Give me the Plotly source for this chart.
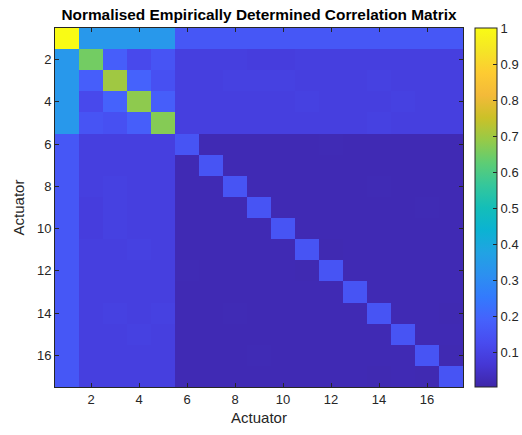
import plotly.graph_objects as go

actuators = list(range(1, 18))

# Normalised correlation matrix (rows = actuator i, cols = actuator j)
row01 = [1.00, 0.34, 0.34, 0.34, 0.34, 0.16, 0.16, 0.16, 0.16, 0.16, 0.16, 0.16, 0.16, 0.16, 0.16, 0.16, 0.16]
row02 = [0.34, 0.65, 0.18, 0.12, 0.15, 0.09, 0.09, 0.09, 0.085, 0.085, 0.09, 0.09, 0.09, 0.09, 0.09, 0.09, 0.09]
row03 = [0.34, 0.18, 0.70, 0.19, 0.14, 0.09, 0.09, 0.095, 0.095, 0.095, 0.09, 0.09, 0.09, 0.095, 0.09, 0.09, 0.09]
row04 = [0.34, 0.12, 0.19, 0.68, 0.18, 0.09, 0.09, 0.09, 0.09, 0.09, 0.095, 0.09, 0.09, 0.09, 0.095, 0.09, 0.09]
row05 = [0.34, 0.15, 0.14, 0.18, 0.67, 0.09, 0.09, 0.09, 0.09, 0.09, 0.09, 0.09, 0.09, 0.095, 0.09, 0.09, 0.09]
row06 = [0.16, 0.09, 0.09, 0.09, 0.09, 0.15, 0.02, 0.02, 0.02, 0.02, 0.02, 0.022, 0.02, 0.02, 0.02, 0.02, 0.02]
row07 = [0.16, 0.09, 0.09, 0.09, 0.09, 0.02, 0.15, 0.02, 0.02, 0.02, 0.02, 0.02, 0.02, 0.02, 0.02, 0.02, 0.02]
row08 = [0.16, 0.09, 0.095, 0.09, 0.09, 0.02, 0.02, 0.15, 0.02, 0.02, 0.02, 0.02, 0.02, 0.022, 0.02, 0.02, 0.02]
row09 = [0.16, 0.085, 0.095, 0.09, 0.09, 0.02, 0.02, 0.02, 0.15, 0.02, 0.02, 0.02, 0.02, 0.02, 0.02, 0.022, 0.02]
row10 = [0.16, 0.085, 0.095, 0.09, 0.09, 0.02, 0.02, 0.02, 0.02, 0.15, 0.02, 0.02, 0.02, 0.02, 0.02, 0.02, 0.02]
row11 = [0.16, 0.09, 0.09, 0.095, 0.09, 0.02, 0.02, 0.02, 0.02, 0.02, 0.15, 0.018, 0.02, 0.02, 0.02, 0.02, 0.02]
row12 = [0.16, 0.09, 0.09, 0.09, 0.09, 0.022, 0.02, 0.02, 0.02, 0.02, 0.018, 0.15, 0.02, 0.02, 0.02, 0.02, 0.02]
row13 = [0.16, 0.09, 0.09, 0.09, 0.09, 0.02, 0.02, 0.02, 0.02, 0.02, 0.02, 0.02, 0.15, 0.02, 0.02, 0.02, 0.02]
row14 = [0.16, 0.09, 0.095, 0.09, 0.095, 0.02, 0.02, 0.022, 0.02, 0.02, 0.02, 0.02, 0.02, 0.15, 0.02, 0.02, 0.018]
row15 = [0.16, 0.09, 0.09, 0.095, 0.09, 0.02, 0.02, 0.02, 0.02, 0.02, 0.02, 0.02, 0.02, 0.02, 0.15, 0.02, 0.02]
row16 = [0.16, 0.09, 0.09, 0.09, 0.09, 0.02, 0.02, 0.02, 0.022, 0.02, 0.02, 0.02, 0.02, 0.02, 0.02, 0.15, 0.018]
row17 = [0.16, 0.09, 0.09, 0.09, 0.09, 0.02, 0.02, 0.02, 0.02, 0.02, 0.02, 0.02, 0.02, 0.018, 0.02, 0.018, 0.15]

z = [row01, row02, row03, row04, row05, row06, row07, row08, row09,
     row10, row11, row12, row13, row14, row15, row16, row17]

cbar_ticks = [0.1, 0.2, 0.3, 0.4, 0.5, 0.6, 0.7, 0.8, 0.9, 1]
axis_ticks = [2, 4, 6, 8, 10, 12, 14, 16]

# MATLAB parula colormap (sampled)
parula = [
    (0.2422, 0.1504, 0.6603), (0.2704, 0.2138, 0.8346), (0.2813, 0.2985, 0.9397),
    (0.2710, 0.3860, 0.9898), (0.2006, 0.4803, 0.9906), (0.1716, 0.5655, 0.9393),
    (0.1288, 0.6408, 0.8910), (0.0433, 0.7039, 0.8242), (0.0770, 0.7468, 0.7224),
    (0.2061, 0.7808, 0.6065), (0.3671, 0.8021, 0.4563), (0.5886, 0.7913, 0.2833),
    (0.7945, 0.7554, 0.1570), (0.9523, 0.7284, 0.2237), (0.9938, 0.7974, 0.1974),
    (0.9601, 0.8963, 0.1507), (0.9769, 0.9839, 0.0805),
]
n = len(parula)
colorscale = [[i / (n - 1), "rgb(%d,%d,%d)" % tuple(round(c * 255) for c in col)]
              for i, col in enumerate(parula)]

# colour limits shown on the colour bar
clim_low = 0.004
clim_high = 1.0

font = "Liberation Sans, Arial, Helvetica, sans-serif"
axcol = "#262626"

fig = go.Figure(go.Heatmap(
    z=z, x=actuators, y=actuators,
    colorscale=colorscale, zmin=clim_low, zmax=clim_high,
    colorbar=dict(
        thickness=22, len=1.0, lenmode="fraction", y=0.5, yanchor="middle",
        x=1.029, xanchor="left", xpad=0, ypad=0,
        outlinecolor=axcol, outlinewidth=1,
        ticks="inside", ticklen=4, tickcolor=axcol,
        tickvals=cbar_ticks, ticktext=[str(t) for t in cbar_ticks],
        tickfont=dict(family=font, size=13, color=axcol),
    ),
))

fig.update_layout(
    width=522, height=435,
    margin=dict(l=55, r=59, t=28, b=48, autoexpand=False),
    paper_bgcolor="white", plot_bgcolor="white",
    title=dict(text="<b>Normalised Empirically Determined Correlation Matrix</b>",
               x=0.5, xref="paper", xanchor="center", y=1 - 15 / 435, yanchor="middle",
               font=dict(family=font, size=15.4, color="black")),
    xaxis=dict(
        range=[0.5, 17.5], tickvals=axis_ticks, ticks="inside", ticklen=4,
        tickcolor=axcol, showline=True, linecolor=axcol, linewidth=1,
        mirror="ticks", showgrid=False, zeroline=False,
        tickfont=dict(family=font, size=13, color=axcol),
        title=dict(text="Actuator", font=dict(family=font, size=15, color=axcol), standoff=6),
    ),
    yaxis=dict(
        range=[17.5, 0.5], tickvals=axis_ticks, ticks="inside", ticklen=4,
        tickcolor=axcol, showline=True, linecolor=axcol, linewidth=1,
        mirror="ticks", showgrid=False, zeroline=False,
        tickfont=dict(family=font, size=13, color=axcol),
        title=dict(text="Actuator", font=dict(family=font, size=15, color=axcol), standoff=8),
    ),
)

fig.write_html("out.html")
